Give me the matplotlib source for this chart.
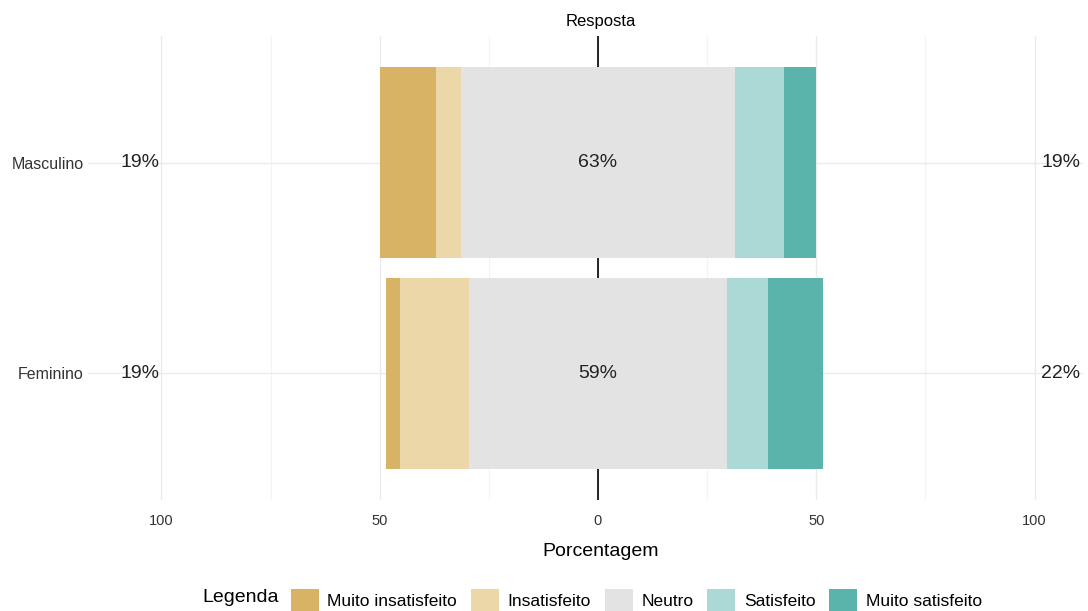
import matplotlib.pyplot as plt
from matplotlib.patches import Patch
import numpy as np

# dados (de baixo para cima no grafico)
grupos = ["Feminino", "Masculino"]
muito_insat = [3.3, 13.0]
insat = [15.6, 5.6]
neutro = [59.3, 62.8]
satisf = [9.2, 11.2]
muito_satisf = [12.6, 7.4]

niveis = ["Muito insatisfeito", "Insatisfeito", "Neutro", "Satisfeito", "Muito satisfeito"]
cores = ["#D8B365", "#EBD7A8", "#E3E3E3", "#ABD9D5", "#5AB4AC"]
ticks = [-100, -50, 0, 50, 100]

plt.rcParams['font.family'] = ['Liberation Sans', 'DejaVu Sans']

fig = plt.figure(figsize=(10.88, 6.11), dpi=100)
ax = fig.add_axes([0.0809, 0.1817, 0.9145, 0.7594])

y = np.arange(len(grupos))
mi = np.array(muito_insat)
ins = np.array(insat)
neu = np.array(neutro)
sat = np.array(satisf)
ms = np.array(muito_satisf)

# linha central
ax.axvline(0, color="black", lw=1.2, zorder=1)

h = 0.905
ax.barh(y, ins, left=-neu / 2 - ins, height=h, color=cores[1], zorder=2)
ax.barh(y, mi, left=-neu / 2 - ins - mi, height=h, color=cores[0], zorder=2)
ax.barh(y, neu, left=-neu / 2, height=h, color=cores[2], zorder=2)
ax.barh(y, sat, left=neu / 2, height=h, color=cores[3], zorder=2)
ax.barh(y, ms, left=neu / 2 + sat, height=h, color=cores[4], zorder=2)

for i in range(len(grupos)):
    ax.text(-100.5, y[i], "%d%%" % round(mi[i] + ins[i]), ha="right", va="center", fontsize=14, color="#222222")
    ax.text(0, y[i], "%d%%" % round(neu[i]), ha="center", va="center", fontsize=14, color="#222222", zorder=3)
    ax.text(101.5, y[i], "%d%%" % round(sat[i] + ms[i]), ha="left", va="center", fontsize=14, color="#222222")

xmin, xmax = -116.8, 111.1
ax.set_xlim(xmin, xmax)
ax.set_ylim(-0.6, 1.6)
ax.set_xticks(ticks)
ax.set_xticklabels([str(abs(t)) for t in ticks], fontsize=10.5, color="#333333")
ax.set_xticks([-75, -25, 25, 75], minor=True)
ax.set_yticks(y)
ax.set_yticklabels(grupos, fontsize=11.5, color="#333333")
ax.tick_params(length=0, which="both")
ax.tick_params(axis="x", pad=10)
ax.tick_params(axis="y", pad=3)
ax.grid(True, which="major", color="#EBEBEB", lw=1, zorder=0)
ax.grid(True, which="minor", axis="x", color="#F3F3F3", lw=0.8, zorder=0)
ax.set_axisbelow(True)
for s in ax.spines.values():
    s.set_visible(False)

# titulo e rotulo centrados no zero
xc = (0 - xmin) / (xmax - xmin) + 0.003
ax.set_xlabel("Porcentagem", fontsize=14)
ax.xaxis.set_label_coords(xc, -0.092, transform=ax.transAxes)
ax.xaxis.label.set_va("top")
ax.set_title("Resposta", fontsize=12, pad=7, x=xc)

handles = [Patch(facecolor=c, edgecolor="none") for c in cores]
fig.legend(handles, niveis, loc="lower left", bbox_to_anchor=(291 / 1088, 0.0), ncol=5, frameon=False,
           fontsize=12.5, handlelength=1.6, handleheight=1.6, columnspacing=0.8, handletextpad=0.5,
           borderpad=0, borderaxespad=0)
fig.text(202 / 1088, 0.0229, "Legenda", fontsize=14, va="center")

fig.savefig("out.png", dpi=100)
